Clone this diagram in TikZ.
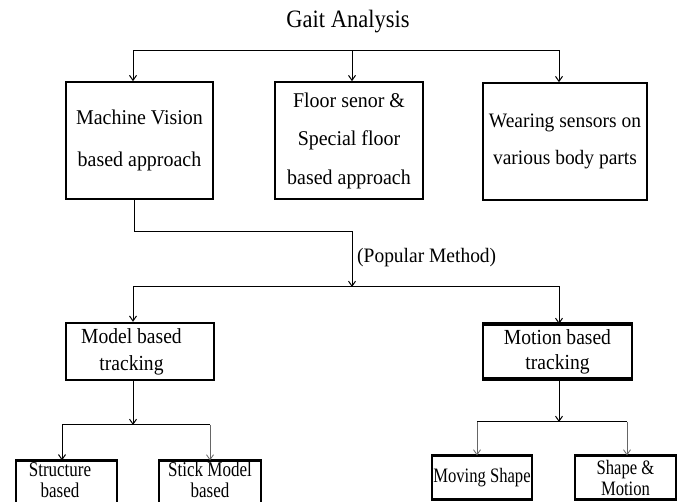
\documentclass[tikz,border=0pt]{standalone}
\usepackage{fontspec}
\setmainfont{Liberation Serif}
\newfontfamily\condA{Liberation Serif}[FakeStretch=0.81]
\newfontfamily\condB{Liberation Serif}[FakeStretch=0.91]
\newfontfamily\condC{Liberation Serif}[FakeStretch=0.95]
\newfontfamily\condT{Liberation Serif}[FakeStretch=0.9]
\usetikzlibrary{arrows.meta}
\begin{document}
\begin{tikzpicture}[x=1pt,y=-1pt,
  box/.style={draw=black,line width=1.6pt,inner sep=0pt,align=center},
  midbox/.style={draw=black,line width=2.4pt,inner sep=0pt,align=center},
  smallbox/.style={draw=black,line width=1.2pt,inner sep=0pt,align=center},
  conn/.style={draw=black,line width=1pt},
  arr/.style={conn,-{Straight Barb[length=5pt,width=7pt]}},
  arrg/.style={draw=black!60,line width=0.8pt,-{Straight Barb[length=5pt,width=7pt]}},
  thickedge/.style={draw=black,line width=2.8pt}
]
\clip (0,0) rectangle (683,502);
\fill[white] (0,0) rectangle (683,502);

% title
\node[font=\condT\fontsize{25}{30}\selectfont,inner sep=0pt] (title) at (348,22) {Gait Analysis};

% first level
\node[box,minimum width=147pt,minimum height=117pt,font=\condC\fontsize{21}{42}\selectfont] (mv) at (139.5,140.5) {Machine Vision\\based approach};
\node[box,minimum width=148pt,minimum height=117pt,font=\condC\fontsize{21}{38.5}\selectfont] (fs) at (349,140.5) {Floor senor \&\\Special floor\\based approach};
\node[box,minimum width=164pt,minimum height=117pt,font=\condC\fontsize{20.5}{37}\selectfont] (ws) at (565,141.5) {Wearing sensors on\\various body parts};

\coordinate (h1) at (352,51);
\draw[arr] (h1) -| ([xshift=-6.5pt]mv.north);
\draw[arr] (h1) -- ([xshift=3pt]fs.north);
\draw[arr] (h1) -| ([xshift=-6pt]ws.north);

% popular method
\coordinate (bend) at (352,232);
\coordinate (h2) at (352,287);
\draw[arr] ([xshift=-5.5pt]mv.south) |- (bend) -- (h2);
\node[font=\condC\fontsize{20.5}{24}\selectfont,anchor=west,inner sep=0pt] (pm) at (357,258) {(Popular Method)};

% second level
\node[midbox,minimum width=148pt,minimum height=57pt,font=\condB\fontsize{21.5}{27}\selectfont] (mb) at (140,351.5) {\hspace*{-17pt}Model based\\\hspace*{-17pt}tracking};
\node[midbox,line width=2pt,minimum width=149pt,minimum height=53pt,font=\condB\fontsize{21.5}{25}\selectfont] (tb) at (557.5,351.5) {Motion based\\tracking};
\draw[thickedge,line width=3.4pt] (tb.north west) -- (tb.north east);
\draw[thickedge,line width=3.4pt] (tb.south west) -- (tb.south east);

\draw[arr] (h2) -| ([xshift=-7pt]mb.north);
\draw[arr] (h2) -| ([xshift=1.5pt]tb.north);

% third level, left
\node[smallbox,minimum width=101pt,minimum height=44pt,font=\condA\fontsize{21}{21}\selectfont] (sb) at (66.5,483) {\hspace*{-13pt}Structure\\\hspace*{-13pt}based\\[-15pt]\mbox{}};
\node[smallbox,minimum width=102pt,minimum height=44pt,font=\condA\fontsize{21}{21}\selectfont] (sk) at (210,483) {Stick Model\\based\\[-15pt]\mbox{}};
\draw[thickedge] (sb.north west) -- (sb.north east);
\draw[thickedge] (sk.north west) -- (sk.north east);

\coordinate (h3) at (133,425);
\draw[arr] ([xshift=-7pt]mb.south) -- (h3);
\draw[conn] ([xshift=-4.5pt]sb.north |- h3) -- (sk.north |- h3);
\draw[arr] ([xshift=-4.5pt]sb.north |- h3) -- ([xshift=-4.5pt]sb.north);
\draw[arrg] (sk.north |- h3) -- (sk.north);

% third level, right
\node[smallbox,minimum width=100pt,minimum height=43pt,font=\condA\fontsize{20.5}{21}\selectfont] (ms) at (482,477.5) {Moving Shape};
\node[smallbox,minimum width=101pt,minimum height=43pt,font=\condA\fontsize{20.5}{21}\selectfont] (sm) at (625.5,477.5) {Shape \&\\Motion};
\draw[thickedge] (ms.north west) -- (ms.north east);
\draw[thickedge] (ms.south west) -- (ms.south east);
\draw[thickedge,line width=2pt] (sm.north west) -- (sm.north east);
\draw[thickedge] (sm.south west) -- (sm.south east);

\coordinate (h4) at (559,422);
\draw[arr] ([xshift=1.5pt]tb.south) -- (h4);
\draw[conn] ([xshift=-5pt]ms.north |- h4) -- ([xshift=1.5pt]sm.north |- h4);
\draw[arrg] ([xshift=-5pt]ms.north |- h4) -- ([xshift=-5pt]ms.north);
\draw[arrg] ([xshift=1.5pt]sm.north |- h4) -- ([xshift=1.5pt]sm.north);
\end{tikzpicture}
\end{document}
